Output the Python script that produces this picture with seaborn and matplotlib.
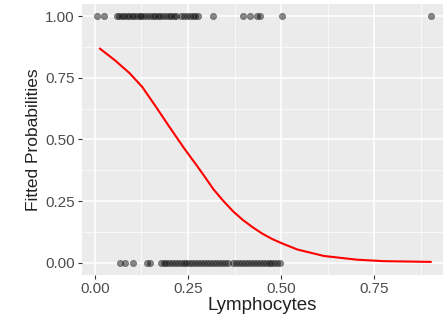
import numpy as np
import pandas as pd
import matplotlib
matplotlib.use("Agg")
import matplotlib.pyplot as plt
import seaborn as sns
from matplotlib.ticker import MultipleLocator

# observed outcomes (y = 1) at these lymphocyte values
x_one = [0.005, 0.024, 0.058, 0.065, 0.072, 0.078, 0.085, 0.092, 0.10, 0.105,
         0.112, 0.12, 0.125, 0.132, 0.14, 0.148, 0.155, 0.162, 0.17, 0.176,
         0.183, 0.19, 0.198, 0.205, 0.212, 0.218, 0.232, 0.24, 0.248, 0.255,
         0.262, 0.27, 0.278, 0.318, 0.398, 0.416, 0.435, 0.443, 0.501, 0.902]
# observed outcomes (y = 0)
x_zero = [0.066, 0.08, 0.101, 0.14, 0.147, 0.178, 0.185, 0.192, 0.2, 0.207,
          0.215, 0.222, 0.23, 0.238, 0.245, 0.253, 0.26, 0.268, 0.276, 0.284,
          0.292, 0.3, 0.308, 0.316, 0.324, 0.332, 0.34, 0.348, 0.356, 0.37,
          0.378, 0.386, 0.394, 0.402, 0.41, 0.418, 0.426, 0.434, 0.442, 0.45,
          0.458, 0.466, 0.474, 0.482, 0.49, 0.498]

# fitted probability curve
fit_x = [0.013, 0.053, 0.093, 0.127, 0.164, 0.199, 0.239, 0.273, 0.296,
         0.318, 0.345, 0.371, 0.398, 0.424, 0.450, 0.477, 0.504, 0.544,
         0.615, 0.703, 0.775, 0.902]
fit_y = [0.869, 0.822, 0.769, 0.713, 0.632, 0.553, 0.465, 0.395, 0.346,
         0.298, 0.250, 0.208, 0.172, 0.143, 0.117, 0.095, 0.077, 0.053,
         0.027, 0.012, 0.006, 0.003]

pts = pd.DataFrame({
    "Lymphocytes": x_one + x_zero,
    "y": [1.0] * len(x_one) + [0.0] * len(x_zero),
})
fit = pd.DataFrame({"Lymphocytes": fit_x, "p": fit_y})

sns.set_theme(style="darkgrid", rc={
    "axes.facecolor": "#EBEBEB",
    "grid.color": "white",
    "axes.edgecolor": "#EBEBEB",
})
plt.rcParams["font.family"] = ["Liberation Sans", "DejaVu Sans"]

fig = plt.figure(figsize=(4.45, 3.25), dpi=100)
ax = fig.add_axes([0.184, 0.154, 0.812, 0.834])

sns.scatterplot(data=pts, x="Lymphocytes", y="y", ax=ax, color="black",
                alpha=0.45, s=20, edgecolor="#222222", linewidth=0.6,
                zorder=3)
sns.lineplot(data=fit, x="Lymphocytes", y="p", ax=ax, color="#FF0000",
             linewidth=1.5, zorder=4)

ax.set_xlim(-0.035, 0.935)
ax.set_ylim(-0.05, 1.05)
ax.xaxis.set_minor_locator(MultipleLocator(0.125))
ax.yaxis.set_minor_locator(MultipleLocator(0.125))
ax.set_xticks([0, 0.25, 0.5, 0.75])
ax.set_xticklabels(["0.00", "0.25", "0.50", "0.75"])
ax.set_yticks([0, 0.25, 0.5, 0.75, 1.0])
ax.set_yticklabels(["0.00", "0.25", "0.50", "0.75", "1.00"])
ax.grid(which="major", color="white", linewidth=1.1)
ax.grid(which="minor", color="white", linewidth=0.5)
ax.tick_params(axis="both", which="major", length=3, width=0.8,
               color="#333333", labelcolor="#4D4D4D", labelsize=11, pad=2,
               bottom=True, left=True)
ax.tick_params(which="minor", length=0)
for s in ax.spines.values():
    s.set_visible(False)

ax.set_xlabel("Lymphocytes", fontsize=13.5, color="#222222", labelpad=1)
ax.set_ylabel("Fitted Probabilities", fontsize=12.5, color="#222222", labelpad=3)

fig.savefig("out.png", dpi=100)
